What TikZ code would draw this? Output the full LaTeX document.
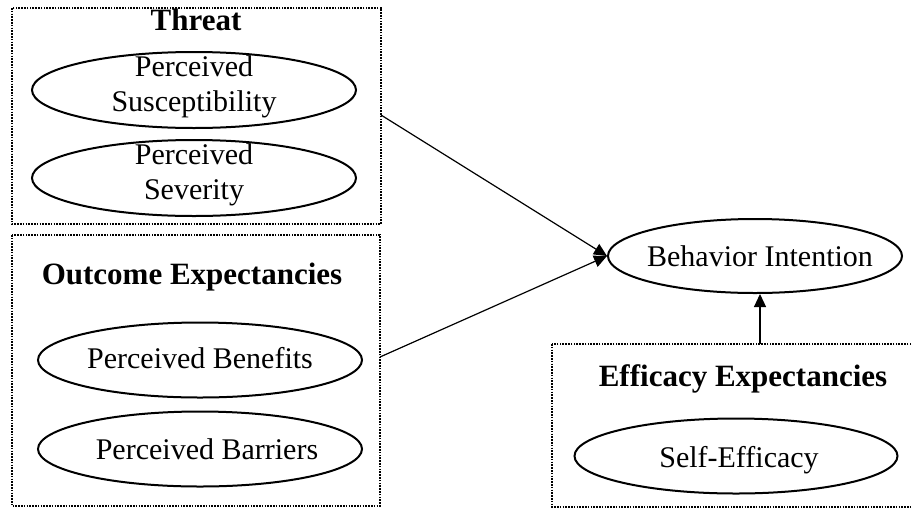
\documentclass[tikz,border=0pt]{standalone}
\usepackage{fontspec}
\setmainfont{Liberation Serif}
\usetikzlibrary{shapes.geometric,arrows.meta}
\begin{document}
\begin{tikzpicture}[x=1pt,y=-1pt,
  groupbox/.style={draw=black,line width=1.6pt,dash pattern=on 1.6pt off 1.2pt},
  construct/.style={draw=black,ellipse,line width=2pt,inner sep=0pt,minimum width=324pt,minimum height=76pt},
  ctext/.style={inner sep=0pt,align=center,font=\fontsize{30}{35}\selectfont},
  grouptitle/.style={inner sep=0pt,font=\fontsize{31}{36}\selectfont\bfseries},
  link/.style={draw=black,line width=1.2pt,-{Triangle[length=13pt,width=12pt]}}]
\clip (0,0) rectangle (912,509);
\fill[white] (0,0) rectangle (912,509);
% group boxes
\draw[groupbox] (12,8) rectangle (381,224);
\draw[groupbox] (12,235) rectangle (380,506);
\draw[groupbox] (552,344) rectangle (920,507);
\coordinate (threatR) at (381,115);
\coordinate (outR) at (380,357);
\coordinate (effT) at (760,344);
% titles
\node[grouptitle] (tthreat) at (196,20) {Threat};
\node[grouptitle] (tout) at (192,277) {Outcome Expectancies};
\node[grouptitle] (teff) at (743,379) {Efficacy Expectancies};
% constructs
\node[construct] (sus) at (194,90) {};
\node[construct] (sev) at (194,178) {};
\node[construct,minimum height=75pt] (ben) at (200,360) {};
\node[construct,minimum height=75pt] (bar) at (200,449) {};
\node[construct,minimum width=294pt,minimum height=74pt] (bi) at (755,256) {};
\node[construct,minimum width=323pt,minimum height=75pt] (se) at (736,456) {};
\node[ctext] (sustext) at ([yshift=3pt]sus.center) {Perceived\\Susceptibility};
\node[ctext] (sevtext) at ([yshift=3pt]sev.center) {Perceived\\Severity};
\node[ctext] (bentext) at ([yshift=2pt]ben.center) {Perceived Benefits};
\node[ctext] (bartext) at ([xshift=7pt]bar.center) {Perceived Barriers};
\node[ctext] (bitext) at ([xshift=5pt]bi.center) {Behavior Intention};
\node[ctext] (setext) at ([xshift=3pt,yshift=-4pt]se.center) {Self-Efficacy};
% connectors
\draw[link] (threatR) -- (bi.west);
\draw[link] (outR) -- (bi.west);
\draw[link] (effT) -- (effT |- bi.south);
\end{tikzpicture}
\end{document}
